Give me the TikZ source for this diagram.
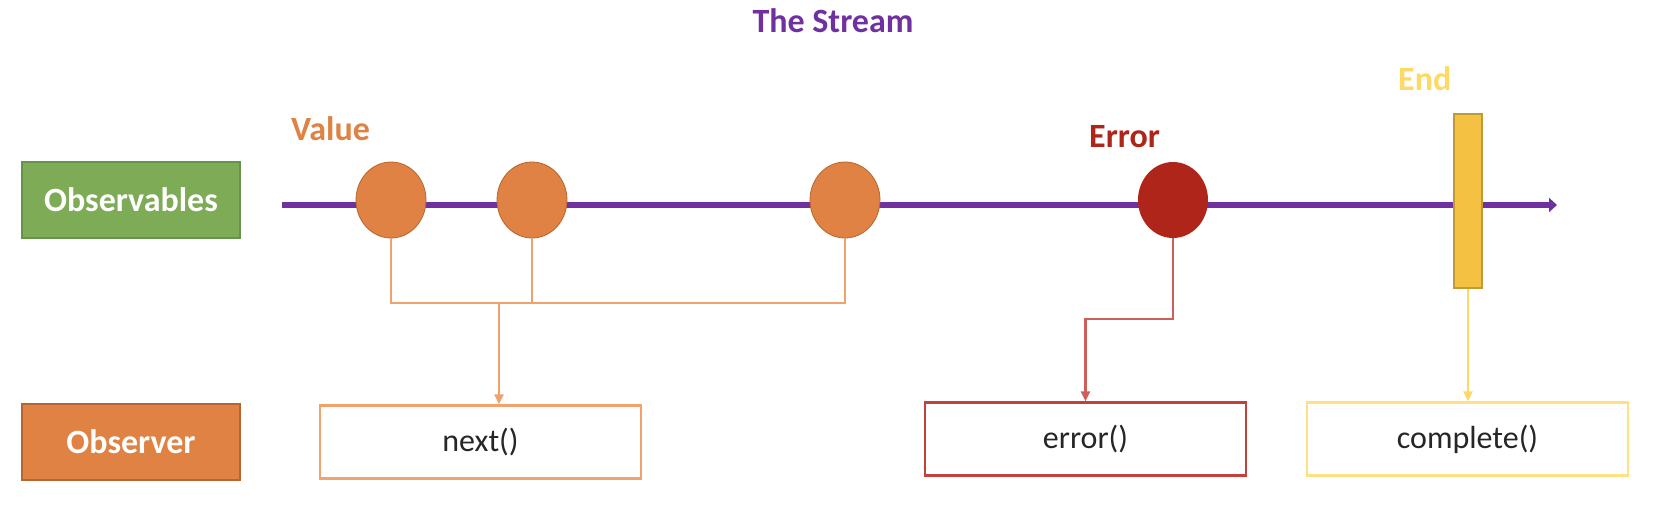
\documentclass[tikz,border=0pt]{standalone}
\usepackage{fontspec}
\setmainfont{Carlito}
\usetikzlibrary{shapes.geometric,arrows.meta}
\definecolor{strpurple}{HTML}{7030A0}
\definecolor{obsgreen}{HTML}{7EAB55}
\definecolor{obsgreenD}{HTML}{67924A}
\definecolor{orgfill}{HTML}{E08243}
\definecolor{orgdraw}{HTML}{B5652F}
\definecolor{orgline}{HTML}{F0A26C}
\definecolor{errfill}{HTML}{B0251A}
\definecolor{errline}{HTML}{CD605B}
\definecolor{errbox}{HTML}{C4403A}
\definecolor{endfill}{HTML}{F4C142}
\definecolor{enddraw}{HTML}{BF9A35}
\definecolor{endlabel}{HTML}{FFD966}
\definecolor{endbox}{HTML}{FFE083}
\definecolor{txt}{HTML}{262626}
\tikzset{
  big/.style={font=\fontsize{34}{40}\selectfont\bfseries},
  reg/.style={font=\fontsize{32}{38}\selectfont, text=txt},
  sidebox/.style={big, text=white, minimum width=218, minimum height=76, inner sep=0pt, line width=1.2pt},
  event/.style={ellipse, minimum width=70, minimum height=76, inner sep=0pt},
  callbox/.style={reg, minimum width=321, minimum height=73, inner sep=0pt, line width=2.2pt, fill=white},
  tip/.style={-{Triangle[length=10pt,width=9pt]}},
  nl/.style={draw=orgline, line width=2.2pt},
  el/.style={draw=errline, line width=2.4pt},
  yl/.style={draw=endlabel, line width=2.2pt},
}
\begin{document}
\begin{tikzpicture}[x=1pt,y=-1pt]
\useasboundingbox (0,0) rectangle (1670,512);
% title
\node[big, text=strpurple, anchor=base, inner sep=0pt] (title) at (833,32) {The Stream};
% side boxes
\node[sidebox, fill=obsgreen, draw=obsgreenD] (obs) at (131,200) {Observables};
\node[sidebox, fill=orgfill, draw=orgdraw] (obsr) at (131,442) {Observer};
% stream
\coordinate (sstart) at (282,205);
\coordinate (send) at (1557,205);
\draw[strpurple, line width=6pt, -{Triangle[length=8pt,width=14pt]}] (sstart) -- (send);
% events
\node[event, fill=orgfill, draw=orgdraw, line width=0.8pt] (c1) at (391,200) {};
\node[event, fill=orgfill, draw=orgdraw, line width=0.8pt] (c2) at (532,200) {};
\node[event, fill=orgfill, draw=orgdraw, line width=0.8pt] (c3) at (845,200) {};
\node[event, fill=errfill] (c4) at (1173,200) {};
\node[fill=endfill, draw=enddraw, line width=1.2pt, minimum width=28, minimum height=174, inner sep=0pt] (endbar) at (1468,201) {};
% labels
\node[big, text=orgfill, anchor=base west, inner sep=0pt] (lval) at (291,140) {Value};
\node[big, text=errfill, anchor=base west, inner sep=0pt] (lerr) at (1089,147) {Error};
\node[big, text=endlabel, anchor=base west, inner sep=0pt] (lend) at (1398,90) {End};
% call boxes
\node[callbox, draw=orgline] (nextbox) at (480.5,442) {next()};
\node[callbox, draw=errbox] (errbox) at (1085.5,439) {error()};
\node[callbox, draw=endbox] (compbox) at (1467.5,439) {complete()};
% connectors
\coordinate (bus) at (0,303);
\coordinate (tap) at (499,303);
\coordinate (ebend) at (0,319);
\draw[nl] (c1.south) -- (c1.south |- bus) -- (c3.south |- bus) -- (c3.south);
\draw[nl] (c2.south) -- (c2.south |- bus);
\draw[nl, tip] (tap) -- (tap |- nextbox.north);
\draw[el, tip] (c4.south) -- (c4.south |- ebend) -| (errbox.north);
\draw[yl, tip] (endbar.south) -- (endbar.south |- compbox.north);
\end{tikzpicture}
\end{document}
